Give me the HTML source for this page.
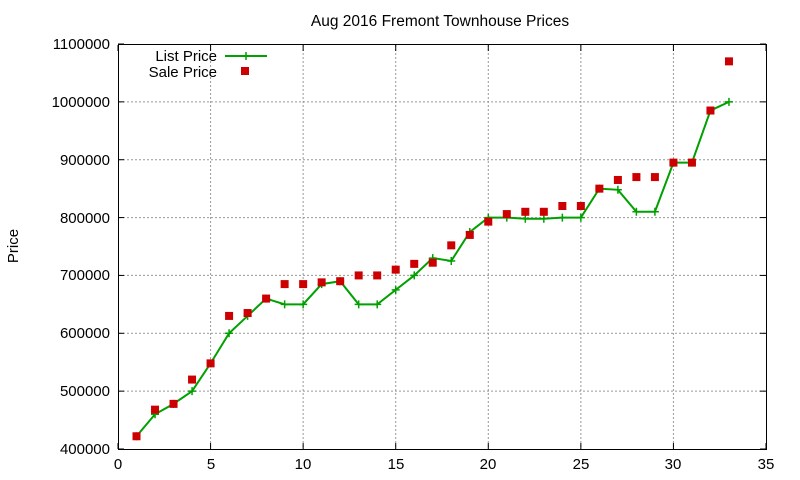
<!DOCTYPE html>
<html><head><meta charset="utf-8"><style>
body{margin:0;background:#fff}
svg{display:block;font-family:"Liberation Sans",sans-serif}
</style></head><body>
<svg id="s" width="800" height="480" xmlns="http://www.w3.org/2000/svg">
<rect width="800" height="480" fill="#fff"/>
<text x="440" y="26" font-size="15.5" text-anchor="middle">Aug 2016 Fremont Townhouse Prices</text>
<text x="18" y="246" font-size="15" text-anchor="middle" transform="rotate(-90 18 246)">Price</text>
<g id="grid" stroke="#999" stroke-width="1" stroke-dasharray="2,2"></g>
<rect x="118.5" y="44.5" width="648" height="405" fill="none" stroke="#000"/>
<g id="ticks" stroke="#000"></g>
<g font-size="15" text-anchor="end">
<text x="110" y="454">400000</text><text x="110" y="396">500000</text><text x="110" y="338">600000</text><text x="110" y="280">700000</text><text x="110" y="223">800000</text><text x="110" y="165">900000</text><text x="110" y="107">1000000</text><text x="110" y="49">1100000</text>
</g>
<g font-size="15" text-anchor="middle">
<text x="118" y="469">0</text><text x="211" y="469">5</text><text x="303" y="469">10</text><text x="396" y="469">15</text><text x="488" y="469">20</text><text x="581" y="469">25</text><text x="673" y="469">30</text><text x="766" y="469">35</text>
</g>
<g font-size="15" text-anchor="end">
<text x="217" y="61">List Price</text>
<text x="217" y="77">Sale Price</text>
</g>
<line x1="225" y1="56" x2="267" y2="56" stroke="#00a000" stroke-width="2"/>
<path d="M242 56h8M246 52v8" stroke="#00a000" stroke-width="1.5"/>
<rect x="241" y="67" width="8" height="8" fill="#cc0000"/>
<g id="d"></g>
</svg>
<script>
var X=function(v){return 118+v*648/35},Y=function(p){return 449-(p-400000)*405/700000};
var L=[422,460,478,500,548,600,630,660,650,650,685,690,650,650,675,700,730,725,775,800,800,798,798,800,800,850,848,810,810,895,895,985,1000];
var S=[422,468,478,520,548,630,635,660,685,685,688,690,700,700,710,720,722,752,770,793,806,810,810,820,820,850,865,870,870,895,895,985,1070];
var g='',t='',d='';
for(var i=1;i<35;i++){var x=X(i);if(i%5==0)g+='<line x1="'+x+'" y1="45" x2="'+x+'" y2="449"/>';}
for(var p=500000;p<1100000;p+=100000){g+='<line x1="119" y1="'+Y(p)+'" x2="766" y2="'+Y(p)+'"/>';}
for(var i=0;i<=35;i+=5){var x=X(i);t+='<line x1="'+x+'" y1="449" x2="'+x+'" y2="443"/><line x1="'+x+'" y1="45" x2="'+x+'" y2="51"/>';}
for(var p=400000;p<=1100000;p+=100000){var y=Y(p);t+='<line x1="118" y1="'+y+'" x2="124" y2="'+y+'"/><line x1="766" y1="'+y+'" x2="760" y2="'+y+'"/>';}
document.getElementById('grid').innerHTML=g;document.getElementById('ticks').innerHTML=t;
var pts=L.map(function(v,i){return X(i+1)+','+Y(v*1000)}).join(' ');
d+='<polyline points="'+pts+'" fill="none" stroke="#00a000" stroke-width="2"/>';
L.forEach(function(v,i){var x=X(i+1),y=Y(v*1000);d+='<path d="M'+(x-4)+' '+y+'h8M'+x+' '+(y-4)+'v8" stroke="#00a000" stroke-width="1.5"/>';});
S.forEach(function(v,i){var x=X(i+1),y=Y(v*1000);d+='<rect x="'+(x-4)+'" y="'+(y-4)+'" width="8" height="8" fill="#cc0000"/>';});
document.getElementById('d').innerHTML=d;
</script>
</body></html>
